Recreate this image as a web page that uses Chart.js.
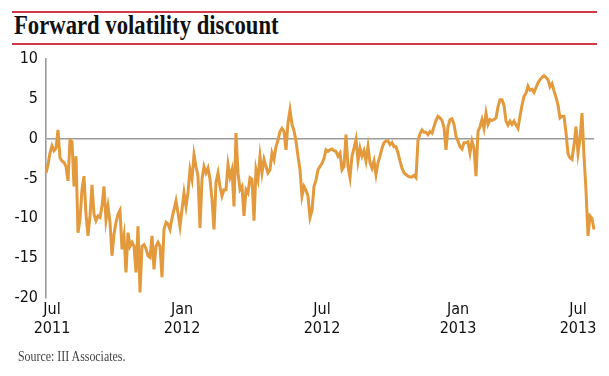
<!DOCTYPE html>
<html>
<head>
<meta charset="utf-8">
<script src="https://cdn.jsdelivr.net/npm/chart.js@4/dist/chart.umd.min.js"></script>
<style>
  html, body { margin: 0; padding: 0; background: #fff; }
  #wrap { position: relative; width: 609px; height: 376px; overflow: hidden; }
  .rule { position: absolute; left: 12px; width: 585px; height: 1.5px; background: #d23a4b; }
  #title { position: absolute; left: 14px; top: 10px; margin: 0;
    font: bold 27px 'Liberation Serif', 'DejaVu Serif', serif; color: #111; white-space: nowrap;
    transform: scaleX(0.84); transform-origin: left center; }
  #source { position: absolute; left: 18px; top: 349px;
    font: 14px 'Liberation Serif', serif; color: #444; white-space: nowrap;
    transform: scaleX(0.85); transform-origin: left center; }
  #cv { position: absolute; left: 0; top: 0; }
</style>
</head>
<body>
<div id="wrap">
  <div class="rule" style="top:11px"></div>
  <h1 id="title">Forward volatility discount</h1>
  <div class="rule" style="top:43px"></div>
  <canvas id="cv" width="609" height="376"></canvas>
  <div id="source">Source: III Associates.</div>
</div>
<script>
// forward vol discount, one reading every ~3 calendar days, Jun 2011 - Jul 2013
const values = [
  -4.3, -3.3, -1.8, -0.9, -1.5, -1.2, 1.1, -2.4, -2.8, -3.0,
  -3.5, -5.3, -0.2, -0.4, -6.0, -2.2, -11.8, -10.1, -6.4, -4.7,
  -9.5, -12.2, -9.7, -5.8, -9.5, -10.3, -9.7, -9.9, -8.5, -6.0,
  -10.2, -8.5, -10.5, -14.7, -12.0, -10.5, -9.5, -9.0, -13.9, -12.2,
  -16.8, -11.8, -13.5, -13.0, -13.5, -16.8, -11.0, -19.3, -13.5, -13.3,
  -13.8, -14.7, -14.9, -12.2, -16.4, -13.5, -13.0, -13.5, -17.4, -11.4,
  -10.5, -10.7, -11.4, -10.0, -8.9, -7.8, -9.3, -11.0, -8.9, -6.8,
  -8.5, -6.8, -3.9, -5.1, -2.0, -3.5, -4.7, -11.2, -5.1, -3.5,
  -4.3, -3.7, -5.1, -7.6, -11.4, -5.5, -4.3, -6.0, -7.2, -6.4,
  -6.4, -3.25, -4.8, -3.9, -8.5, 0.7, -4.3, -6.4, -6.0, -9.7,
  -6.4, -6.8, -4.9, -5.1, -10.3, -3.9, -5.1, -2.2, -4.3, -2.6,
  -3.5, -4.3, -3.9, -1.8, -2.6, -1.0, -0.2, 0.9, 1.3, 0.9,
  -1.4, 2.0, 3.6, 1.8, 1.0, -0.3, -2.2, -3.9, -7.2, -6.0,
  -6.5, -7.2, -9.9, -9.0, -6.0, -5.2, -3.9, -3.5, -3.1, -2.5,
  -1.4, -1.6, -1.4, -1.3, -1.5, -1.6, -2.2, -1.8, -3.9, -3.5,
  0.5, -3.5, -4.9, -2.2, -1.2, -0.1, -2.8, -1.2, -2.2, -1.5,
  -2.8, -1.0, -3.0, -3.7, -2.8, -4.5, -3.0, -2.2, -1.2, -0.5,
  -0.3, -0.3, -0.75, -0.5, -1.0, -1.0, -1.8, -2.8, -3.7, -4.3,
  -4.5, -4.7, -4.8, -4.8, -4.6, -4.9, -0.2, 0.6, 1.1, 0.8,
  0.8, 0.5, 0.9, 0.7, 1.5, 2.3, 2.8, 2.6, 2.3, 1.4,
  -1.4, 1.5, 2.4, 2.5, 1.8, 0.3, -0.3, -1.0, -1.3, -0.5,
  -0.5, -0.4, -1.8, -0.3, -1.2, -4.7, 0.9, 1.5, 2.4, 1.3,
  3.2, 1.8, 2.4, 2.3, 2.4, 2.6, 4.0, 4.9, 4.9, 4.2,
  2.2, 1.7, 2.2, 1.8, 2.2, 1.7, 1.3, 2.8, 4.2, 5.3,
  5.7, 6.6, 6.1, 6.2, 5.8, 6.4, 7.0, 7.4, 7.7, 7.9,
  7.7, 7.4, 6.5, 6.9, 6.0, 5.2, 4.2, 2.6, 2.8, 2.8,
  0.8, -1.9, -2.4, -2.6, -0.8, 1.5, -1.8, 0.0, 3.2, -2.2,
  -6.5, -12.2, -9.7, -10.0, -11.4
];

// where the month labels sit in the series, and what they say
const tickIdx    = [3, 68, 138, 206, 266];
const tickMonths = ['Jul', 'Jan', 'Jul', 'Jan', 'Jul'];
const tickYears  = ['2011', '2012', '2012', '2013', '2013'];

const yMin = -20, yMax = 10, yStep = 5;

const labels = values.map(() => '');
tickIdx.forEach((ix, k) => { labels[ix] = [tickMonths[k], tickYears[k]]; });

const tickFont = { family: "'Liberation Sans Narrow', 'DejaVu Sans Condensed', Roboto, sans-serif", size: 16 };
const axisGrey = '#9b9b9b';

new Chart(document.getElementById('cv'), {
  type: 'line',
  data: {
    labels: labels,
    datasets: [{
      data: values,
      borderColor: '#e39a3c',
      backgroundColor: 'transparent',
      borderWidth: 3,
      pointRadius: 0,
      tension: 0,
    }]
  },
  options: {
    responsive: false,
    animation: false,
    layout: { padding: { left: 0, right: 15, top: 59, bottom: 36 } },
    plugins: { legend: { display: false }, tooltip: { enabled: false } },
    scales: {
      x: {
        type: 'category',
        offset: false,
        grid: { display: false },
        border: { display: false },
        ticks: {
          autoSkip: false, maxRotation: 0, minRotation: 0,
          color: '#111', font: { ...tickFont, lineHeight: 1.2 }, padding: -6,
        },
        afterFit: s => { s.height = 42; }
      },
      y: {
        min: yMin, max: yMax,
        grid: {
          drawTicks: false,
          color: ctx => ctx.tick && ctx.tick.value === 0 ? axisGrey : 'transparent',
          lineWidth: 1.6,
        },
        border: { display: true, color: axisGrey, width: 1.6 },
        ticks: { stepSize: yStep, color: '#111', font: tickFont, padding: 8 },
        afterFit: s => { s.width = 46; }
      }
    }
  }
});
</script>
</body>
</html>
